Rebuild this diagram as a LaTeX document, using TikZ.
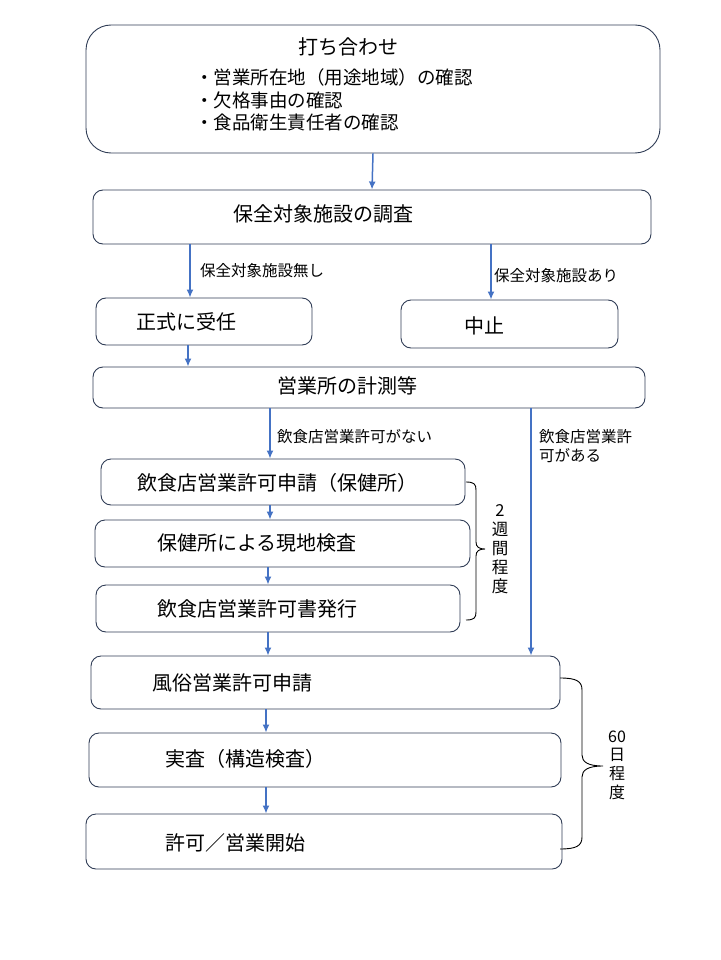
\documentclass[tikz,border=0pt]{standalone}
\usepackage{fontspec}
\setmainfont{Noto Sans CJK JP}
\usetikzlibrary{arrows.meta}
\definecolor{boxline}{RGB}{47,60,85}
\definecolor{arrowblue}{RGB}{68,114,196}

\begin{document}
\begin{tikzpicture}[x=1pt,y=-1pt]
		\tikzset{box/.style = {draw=boxline, line width=0.9pt, rounded corners=10pt, inner sep=0pt}}
		\tikzset{txt/.style = {inner sep=0pt, anchor=west, font=\fontsize{20}{24}\selectfont}}
		\tikzset{note/.style = {inner sep=0pt, anchor=west, align=left, font=\fontsize{15.5}{18.5}\selectfont}}
		\tikzset{span/.style = {inner sep=0pt, align=center, font=\fontsize{16.5}{19}\selectfont}}
		\tikzset{arr/.style = {draw=arrowblue, line width=1.5pt, -{Latex[length=8pt,width=7pt]}}}
		\tikzset{brace/.style = {draw=black, line width=0.9pt}}
		\useasboundingbox (0,0) rectangle (720,960);
		% boxes
		\node[box, rounded corners=25pt, minimum width=574pt, minimum height=128pt] (meet) at (373,89) {};
		\node[box, minimum width=558pt, minimum height=54pt] (survey) at (372,217) {};
		\node[box, minimum width=216pt, minimum height=47pt] (accept) at (204,321.5) {};
		\node[box, minimum width=217pt, minimum height=48pt] (stop) at (509.5,324) {};
		\node[box, minimum width=552pt, minimum height=41pt] (measure) at (369,387.5) {};
		\node[box, minimum width=364pt, minimum height=46pt] (foodapp) at (283,482) {};
		\node[box, minimum width=375pt, minimum height=47pt] (inspect) at (282.5,543.5) {};
		\node[box, minimum width=364pt, minimum height=47pt] (issue) at (278,608.5) {};
		\node[box, minimum width=469pt, minimum height=53pt] (fuzoku) at (325.5,682.5) {};
		\node[box, minimum width=472pt, minimum height=54pt] (jissa) at (325,760) {};
		\node[box, minimum width=476pt, minimum height=55pt] (permit) at (324,841.5) {};
		% texts
		\node[txt, anchor=center] (meet-t) at (348,47) {打ち合わせ};
		\node[txt, align=left, font=\fontsize{18.5}{22.5}\selectfont] (meet-l) at (195,100)
			{・営業所在地（用途地域）の確認\\・欠格事由の確認\\・食品衛生責任者の確認};
		\node[txt] (survey-t) at (233,214) {保全対象施設の調査};
		\node[txt] (accept-t) at (136,322) {正式に受任};
		\node[txt, anchor=center] (stop-t) at (484,326) {中止};
		\node[txt] (measure-t) at (277,386) {営業所の計測等};
		\node[txt] (foodapp-t) at (137,483) {飲食店営業許可申請（保健所）};
		\node[txt] (inspect-t) at (157,543) {保健所による現地検査};
		\node[txt] (issue-t) at (157,609) {飲食店営業許可書発行};
		\node[txt] (fuzoku-t) at (152,683) {風俗営業許可申請};
		\node[txt] (jissa-t) at (165,759) {実査（構造検査）};
		\node[txt] (permit-t) at (165,843) {許可／営業開始};
		% edge labels
		\node[note] (none-l) at (200,271) {保全対象施設無し};
		\node[note] (some-l) at (494,276) {保全対象施設あり};
		\node[note] (nolic-l) at (277,437) {飲食店営業許可がない};
		\node[note] (lic-l) at (539,446) {飲食店営業許\\可がある};
		\node[span] (two-l) at (500,549) {2\\週\\間\\程\\度};
		\node[span, font=\fontsize{16}{18.7}\selectfont] (sixty-l) at (617,765) {60\\日\\程\\度};
		% edges
		\coordinate (xa) at (190,0);
		\coordinate (xb) at (491,0);
		\coordinate (xc) at (188,0);
		\coordinate (xd) at (270,0);
		\coordinate (xe) at (531,0);
		\coordinate (xf) at (268,0);
		\coordinate (xg) at (266,0);
		\draw[arr] (meet.south) -- (survey.north);
		\draw[arr] (survey.south -| xa) -- (accept.north -| xa);
		\draw[arr] (survey.south -| xb) -- (stop.north -| xb);
		\draw[arr] (accept.south -| xc) -- (measure.north -| xc);
		\draw[arr] (measure.south -| xd) -- (foodapp.north -| xd);
		\draw[arr] (measure.south -| xe) -- (fuzoku.north -| xe);
		\draw[arr] (foodapp.south -| xd) -- (inspect.north -| xd);
		\draw[arr] (inspect.south -| xf) -- (issue.north -| xf);
		\draw[arr] (issue.south -| xf) -- (fuzoku.north -| xf);
		\draw[arr] (fuzoku.south -| xg) -- (jissa.north -| xg);
		\draw[arr] (jissa.south -| xg) -- (permit.north -| xg);
		% braces
		\draw[brace] (466,482) .. controls (474,482) and (476,484) .. (476,490) -- (476,542)
			.. controls (476,547) and (479,549) .. (485,549) .. controls (479,549) and (476,551) .. (476,556)
			-- (476,612) .. controls (476,618) and (474,620) .. (466,620);
		\draw[brace] (560,678) .. controls (576,678) and (582,681) .. (582,690) -- (582,755)
			.. controls (582,762) and (588,766) .. (603,766) .. controls (588,766) and (582,770) .. (582,777)
			-- (582,837) .. controls (582,846) and (576,849) .. (560,849);
\end{tikzpicture}
\end{document}
